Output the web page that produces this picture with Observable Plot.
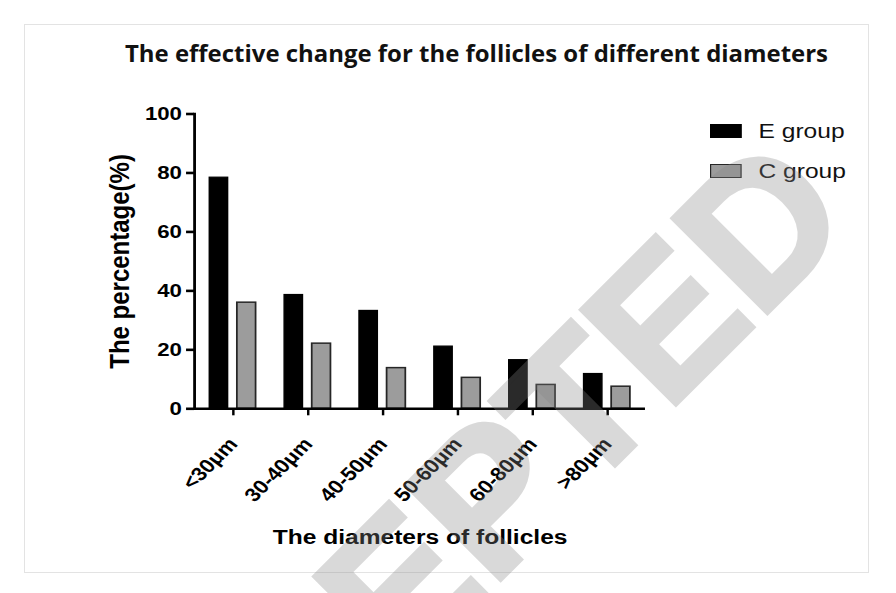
<!DOCTYPE html>
<html>
<head>
<meta charset="utf-8">
<script src="https://cdn.jsdelivr.net/npm/d3@7"></script>
<script src="https://cdn.jsdelivr.net/npm/@observablehq/plot@0.6"></script>
<style>
  html, body { margin: 0; padding: 0; background: #fff; }
  #page { position: relative; width: 896px; height: 593px; overflow: hidden; background: #fff; }
  #border { position: absolute; left: 24px; top: 24px; width: 845px; height: 549px; box-sizing: border-box; border: 1px solid #e3e3e3; }
  /* the chart is laid out narrow and widened, giving the stretched Prism look */
  #stage { position: absolute; left: 0; top: 0; width: 766px; height: 593px; transform: scaleX(1.16971); transform-origin: 0 0; }
  #stage svg { position: absolute; left: 0; top: 0; }
  #stage g[aria-label="y-axis label"] { font-size: 24px; }
  #stage g[aria-label="x-axis label"] { font-size: 21px; }
  #legend { position: absolute; left: 607px; top: 124px; font-family: "Liberation Sans", Arial, sans-serif; font-size: 21px; color: #111; }
  .row { display: flex; align-items: flex-start; height: 14px; line-height: 14px; margin-bottom: 26px; white-space: nowrap; }
  .swatch { width: 26.5px; height: 14px; box-sizing: border-box; margin-right: 15px; }
  #overlay { position: absolute; left: 0; top: 0; pointer-events: none; }
</style>
</head>
<body>
<div id="page">
  <div id="border"></div>
  <div id="stage"><div id="legend"></div></div>
  <svg id="overlay" width="896" height="593"></svg>
</div>
<script>
// Share of effectively changed follicles per diameter class (%)
const categories = ["<30μm", "30-40μm", "40-50μm", "50-60μm", "60-80μm", ">80μm"];
const groups = ["E group", "C group"];
const eValues = [78.4, 38.6, 33.2, 21.1, 16.5, 11.8];
const cValues = [36.0, 22.1, 13.8, 10.5, 8.1, 7.5];
const yTicks = [0, 20, 40, 60, 80, 100];

const titleText = "The effective change for the follicles of different diameters";
const xLabel = "The diameters of follicles";
const yLabel = "The percentage(%)";

const groupFill = {"E group": "#000000", "C group": "#9c9c9c"};
const groupStroke = {"E group": "#000000", "C group": "#262626"};

const rowsE = categories.map((category, i) => ({category, group: groups[0], value: eValues[i]}));
const rowsC = categories.map((category, i) => ({category, group: groups[1], value: cValues[i]}));

const W = 766, H = 593;
const axisFont = "'Liberation Sans', Arial, Helvetica, sans-serif";

const chart = Plot.plot({
  width: W,
  height: H,
  marginLeft: 165.85,
  marginRight: W - 551.4,
  marginTop: 113.5,
  marginBottom: H - 408.3,
  style: {fontFamily: axisFont, color: "#000", background: "transparent", overflow: "visible"},
  x: {domain: categories, padding: 0},
  y: {domain: [0, 100]},
  marks: [
    Plot.barY(rowsE, {x: "category", y: "value", fill: groupFill["E group"], stroke: groupStroke["E group"], strokeWidth: 1.2, insetLeft: 11.9, insetRight: 36.4}),
    Plot.barY(rowsC, {x: "category", y: "value", fill: groupFill["C group"], stroke: groupStroke["C group"], strokeWidth: 1.5, insetLeft: 35.5, insetRight: 12.5}),
    Plot.ruleY([0], {stroke: "#000", strokeWidth: 2.6}),
    Plot.frame({anchor: "left", stroke: "#000", strokeWidth: 2.4}),
    Plot.axisY({ticks: yTicks, tickSize: 6.8, tickPadding: 4, strokeWidth: 2.6, fontSize: 19, fontWeight: "bold",
      label: yLabel, labelArrow: "none", labelAnchor: "center", labelOffset: 73}),
    Plot.axisX({tickSize: 7, tickPadding: 25, strokeWidth: 2.1, tickRotate: -49, fontSize: 19, fontWeight: "bold",
      label: xLabel, labelArrow: "none", labelAnchor: "center", labelOffset: 135})
  ]
});
document.getElementById("stage").prepend(chart);

// legend
const legend = d3.select("#legend");
groups.forEach(g => {
  const row = legend.append("div").attr("class", "row");
  row.append("div").attr("class", "swatch")
    .style("background", groupFill[g])
    .style("border", `1.3px solid ${groupStroke[g]}`);
  row.append("div").text(g);
});

// title and watermark
const overlay = d3.select("#overlay");
overlay.append("text")
  .attr("x", 476.5).attr("y", 62)
  .attr("text-anchor", "middle")
  .attr("textLength", 703).attr("lengthAdjust", "spacingAndGlyphs")
  .attr("font-family", "'Open Sans', 'Noto Sans', sans-serif")
  .attr("font-weight", 700).attr("font-size", 23.5)
  .attr("fill", "#111")
  .text(titleText);

overlay.append("g")
  .attr("opacity", 0.31)
  .append("text")
  .attr("transform", "translate(480,600) rotate(-45)")
  .attr("text-anchor", "middle")
  .attr("font-family", "'Liberation Sans', Arial, sans-serif")
  .attr("font-weight", 700).attr("font-size", 194)
  .attr("fill", "rgb(135,135,135)")
  .attr("stroke", "rgb(135,135,135)").attr("stroke-width", 5).attr("stroke-linejoin", "miter")
  .text("ACCEPTED");
</script>
</body>
</html>
